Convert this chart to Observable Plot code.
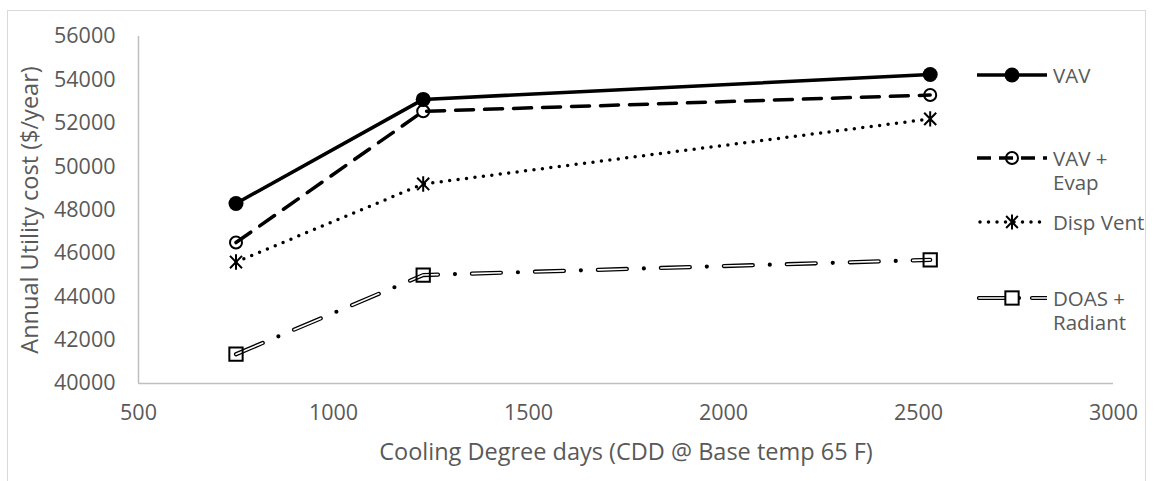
<!DOCTYPE html>
<html>
<head>
<meta charset="utf-8">
<script src="https://cdn.jsdelivr.net/npm/d3@7"></script>
<script src="https://cdn.jsdelivr.net/npm/@observablehq/plot@0.6"></script>
<style>
  html, body { margin: 0; padding: 0; background: #fff; }
  #wrap { position: relative; width: 1154px; height: 481px; overflow: hidden; font-family: "Open Sans", sans-serif; }
  #border { position: absolute; left: 7px; top: 10px; width: 1139px; height: 500px; border: 1.5px solid #d9d9d9; box-sizing: border-box; }
  #chart { position: absolute; left: 0; top: 0; }
  .leg { position: absolute; display: flex; align-items: flex-start; color: #595959; font-size: 20.5px; line-height: 24px; }
  .leg svg { flex: none; margin-right: 6px; }
</style>
</head>
<body>
<div id="wrap">
  <div id="border"></div>
  <div id="chart"></div>
  <div id="legend"></div>
</div>
<script>
// ---- data ----
const cdd = [750, 1230, 2530];
const vav = [48300, 53100, 54250];
const vavEvap = [46500, 52550, 53300];
const dispVent = [45600, 49200, 52200];
const doasRadiant = [41350, 45000, 45700];
const seriesNames = ["VAV", "VAV + Evap", "Disp Vent", "DOAS + Radiant"];
const xTicks = [500, 1000, 1500, 2000, 2500, 3000];
const yTicks = [40000, 42000, 44000, 46000, 48000, 50000, 52000, 54000, 56000];
const xTitle = "Cooling Degree days (CDD @ Base temp 65 F)";
const yTitle = "Annual Utility cost ($/year)";

const rows = (vals, name) => cdd.map((x, i) => ({x, y: vals[i], series: name}));
const rVav = rows(vav, seriesNames[0]);
const rEvap = rows(vavEvap, seriesNames[1]);
const rDisp = rows(dispVent, seriesNames[2]);
const rDoas = rows(doasRadiant, seriesNames[3]);

const ink = "#000";
const txt = "#595959";
const FS = 21.5;   // tick labels
const TS = 23.5;   // axis titles

// asterisk: vertical bar plus an X
const starSymbol = {
  draw(ctx, size) {
    const r = Math.sqrt(size / Math.PI) * 1.1;
    const dx = r * 0.78, dy = r * 0.8;
    ctx.moveTo(0, -r); ctx.lineTo(0, r);
    ctx.moveTo(-dx, -dy); ctx.lineTo(dx, dy);
    ctx.moveTo(-dx, dy); ctx.lineTo(dx, -dy);
  }
};

const chart = Plot.plot({
  width: 1154,
  height: 481,
  marginLeft: 138,
  marginRight: 41,
  marginTop: 36,
  marginBottom: 98,
  style: {fontFamily: "'Open Sans', sans-serif", fontSize: FS + "px", color: txt, background: "transparent", overflow: "visible"},
  x: {domain: [500, 3000], ticks: xTicks, tickFormat: d => String(d)},
  y: {domain: [40000, 56000], ticks: yTicks, tickFormat: d => String(d)},
  marks: [
    Plot.axisX({ticks: xTicks, tickSize: 0, tickPadding: 21, tickFormat: d => String(d), label: null, fill: txt, fontSize: FS}),
    Plot.axisY({ticks: yTicks, tickSize: 0, tickPadding: 23, tickFormat: d => String(d), label: null, fill: txt, fontSize: FS}),
    Plot.ruleY([40000], {stroke: "#bfbfbf", strokeWidth: 1.5}),
    Plot.ruleX([500], {stroke: "#bfbfbf", strokeWidth: 1.5}),
    Plot.text([xTitle], {frameAnchor: "bottom", dy: 69, textAnchor: "middle", lineAnchor: "middle", fill: txt, fontSize: TS}),
    Plot.text([yTitle], {frameAnchor: "left", dx: -108, rotate: -90, textAnchor: "middle", lineAnchor: "middle", fill: txt, fontSize: TS}),
    // DOAS + Radiant: double dash-dot line
    Plot.line(rDoas, {x: "x", y: "y", stroke: ink, strokeWidth: 4.2, strokeDasharray: "29,17,0,17", strokeLinecap: "round"}),
    Plot.line(rDoas, {x: "x", y: "y", stroke: "#fff", strokeWidth: 1.6, strokeDasharray: "29,34", strokeLinecap: "round"}),
    // Disp Vent: dotted
    Plot.line(rDisp, {x: "x", y: "y", stroke: ink, strokeWidth: 3.5, strokeDasharray: "0,8.5", strokeLinecap: "round"}),
    // VAV + Evap: dashed
    Plot.line(rEvap, {x: "x", y: "y", stroke: ink, strokeWidth: 3.5, strokeDasharray: "18,11"}),
    // VAV: solid
    Plot.line(rVav, {x: "x", y: "y", stroke: ink, strokeWidth: 3.5}),
    Plot.dot(rVav, {x: "x", y: "y", r: 7.5, fill: ink, stroke: "none"}),
    Plot.dot(rEvap, {x: "x", y: "y", r: 6, fill: "none", stroke: ink, strokeWidth: 2}),
    Plot.dot(rDisp, {x: "x", y: "y", r: 7, symbol: starSymbol, fill: "none", stroke: ink, strokeWidth: 2}),
    Plot.dot(rDoas, {x: "x", y: "y", r: 7.5, symbol: "square", fill: "none", stroke: ink, strokeWidth: 2})
  ]
});
document.getElementById("chart").appendChild(chart);

// ---- legend (HTML) ----
function sw(kind) {
  const W = 70, H = 24, cy = 12, cx = 35;
  let s = `<svg width="${W}" height="${H}" viewBox="0 0 ${W} ${H}">`;
  if (kind === 0) {
    s += `<line x1="0" y1="${cy}" x2="${W}" y2="${cy}" stroke="#000" stroke-width="3.5"/>`;
    s += `<circle cx="${cx}" cy="${cy}" r="7.5" fill="#000"/>`;
  } else if (kind === 1) {
    s += `<line x1="0" y1="${cy}" x2="${W}" y2="${cy}" stroke="#000" stroke-width="3.5" stroke-dasharray="14,8"/>`;
    s += `<circle cx="${cx}" cy="${cy}" r="6" fill="none" stroke="#000" stroke-width="2"/>`;
  } else if (kind === 2) {
    s += `<line x1="3" y1="${cy}" x2="${W}" y2="${cy}" stroke="#000" stroke-width="3.5" stroke-dasharray="0,8.5" stroke-linecap="round"/>`;
    const r = 7.5, dx = r * 0.78, dy = r * 0.8;
    s += `<path transform="translate(${cx},${cy})" d="M0,${-r}L0,${r}M${-dx},${-dy}L${dx},${dy}M${-dx},${dy}L${dx},${-dy}" fill="none" stroke="#000" stroke-width="2"/>`;
  } else {
    s += `<line x1="2" y1="${cy}" x2="${W}" y2="${cy}" stroke="#000" stroke-width="4.2" stroke-dasharray="29,11,0,13" stroke-linecap="round"/>`;
    s += `<line x1="2" y1="${cy}" x2="${W}" y2="${cy}" stroke="#fff" stroke-width="1.6" stroke-dasharray="29,24" stroke-linecap="round"/>`;
    s += `<rect x="${cx - 6.65}" y="${cy - 6.65}" width="13.3" height="13.3" fill="#fff" stroke="#000" stroke-width="2"/>`;
  }
  return s + "</svg>";
}
const legPos = [63, 146, 210, 286];
const legLabels = ["VAV", "VAV +<br>Evap", "Disp Vent", "DOAS +<br>Radiant"];
const legend = document.getElementById("legend");
seriesNames.forEach((name, i) => {
  const d = document.createElement("div");
  d.className = "leg";
  d.style.left = "977px";
  d.style.top = legPos[i] + "px";
  d.innerHTML = sw(i) + `<div>${legLabels[i]}</div>`;
  legend.appendChild(d);
});
</script>
</body>
</html>
